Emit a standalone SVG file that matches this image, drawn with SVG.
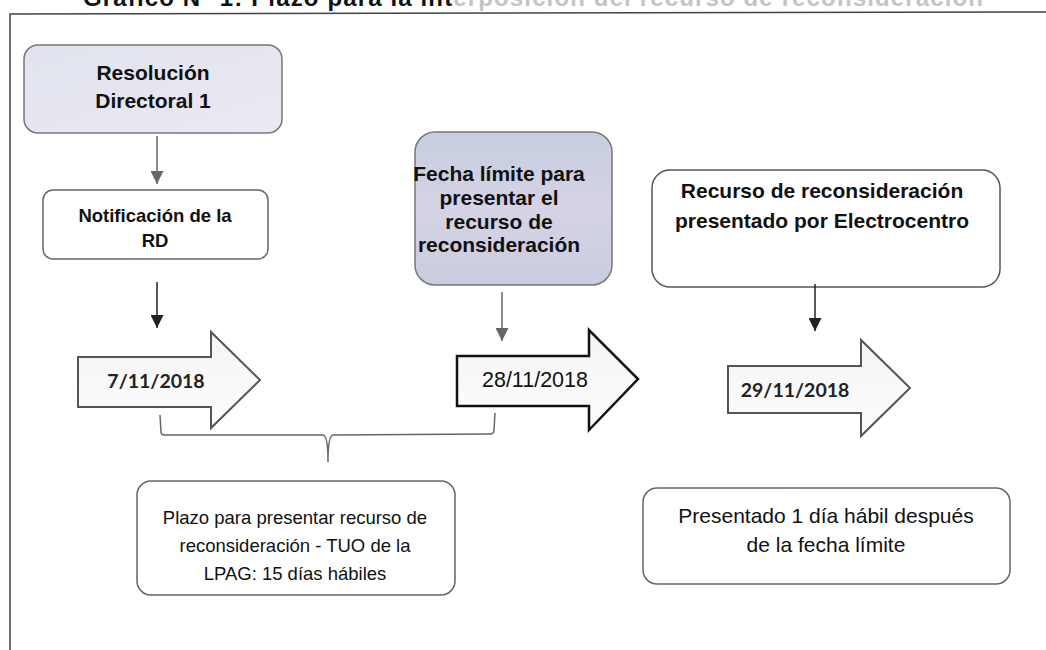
<svg xmlns="http://www.w3.org/2000/svg" width="1046" height="650" viewBox="0 0 1046 650">
<defs>
<linearGradient id="g1" x1="0" y1="0" x2="1" y2="1">
<stop offset="0" stop-color="#e0e3ee"/>
<stop offset="1" stop-color="#ece9f2"/>
</linearGradient>
<linearGradient id="g2" x1="0" y1="0" x2="0" y2="1">
<stop offset="0" stop-color="#c6cde0"/>
<stop offset="0.5" stop-color="#d5d3e4"/>
<stop offset="1" stop-color="#c8cde0"/>
</linearGradient>
<linearGradient id="g3" x1="0" y1="0" x2="0" y2="1">
<stop offset="0" stop-color="#f4f4f4"/>
<stop offset="1" stop-color="#fdfdfd"/>
</linearGradient>
<marker id="ahG" viewBox="0 0 10 10" refX="10" refY="5" markerUnits="userSpaceOnUse" markerWidth="14" markerHeight="13" orient="auto">
<path d="M0,0 L10,5 L0,10 z" fill="#666"/>
</marker>
<marker id="ahB" viewBox="0 0 10 10" refX="10" refY="5" markerUnits="userSpaceOnUse" markerWidth="14" markerHeight="13" orient="auto">
<path d="M0,0 L10,5 L0,10 z" fill="#222"/>
</marker>
<style>
.box{stroke:#666;stroke-width:1.5;fill:#fff}
.tb{font-family:"Liberation Sans",Arial,sans-serif;font-weight:bold;fill:#111;text-anchor:middle}
.tr{font-family:"Liberation Sans",Arial,sans-serif;fill:#111;text-anchor:middle}
.td{font-family:Lato,"Liberation Sans",sans-serif;font-weight:bold;fill:#222;text-anchor:middle}
.blk{fill:url(#g3);stroke:#555;stroke-width:2}
.conn{fill:none;stroke-width:1.5}
</style>
</defs>
<rect width="1046" height="650" fill="#fff"/>
<g id="title">
<text x="83" y="6" font-family="Liberation Sans,Arial,sans-serif" font-weight="bold" font-size="24" fill="#111" textLength="900" lengthAdjust="spacing">Gráfico N° 1: Plazo para la int<tspan fill="#c4c4c4">erposición del recurso de reconsideración</tspan></text>
</g>
<g id="frame">
<path d="M10,650 L10,14 L1046,12" fill="none" stroke="#444" stroke-width="1.5"/>
</g>
<g id="n1">
<rect x="24" y="45" width="258" height="88" rx="14" fill="url(#g1)" stroke="#777" stroke-width="1.5"/>
<text class="tb" font-size="21" x="153" y="80">Resolución</text>
<text class="tb" font-size="21" x="153" y="108">Directoral 1</text>
</g>
<g id="n2">
<rect class="box" x="43" y="190" width="225" height="69" rx="10"/>
<text class="tb" font-size="18.5" x="155" y="222">Notificación de la</text>
<text class="tb" font-size="18.5" x="155" y="247">RD</text>
</g>
<g id="n3">
<rect x="415" y="132" width="197" height="153" rx="20" fill="url(#g2)" stroke="#777" stroke-width="1.5"/>
<text class="tb" font-size="21" x="499" y="181">Fecha límite para</text>
<text class="tb" font-size="21" x="499" y="205">presentar el</text>
<text class="tb" font-size="21" x="499" y="229">recurso de</text>
<text class="tb" font-size="21" x="499" y="252">reconsideración</text>
</g>
<g id="n4">
<rect class="box" x="652" y="170" width="348" height="117" rx="18" style="stroke:#555"/>
<text class="tb" font-size="21" x="822" y="198">Recurso de reconsideración</text>
<text class="tb" font-size="21" x="822" y="228">presentado por Electrocentro</text>
</g>
<g id="a1">
<path class="blk" d="M78,357 L211,357 L211,332 L260,380 L211,428 L211,407 L78,407 Z"/>
<text class="td" font-size="19.5" x="156" y="388">7/11/2018</text>
</g>
<g id="a2">
<path class="blk" style="stroke:#111;stroke-width:2.5" d="M457,356 L589,356 L589,330 L638,379 L589,430 L589,406 L457,406 Z"/>
<text class="tr" font-size="21.5" x="535" y="387">28/11/2018</text>
</g>
<g id="a3">
<path class="blk" d="M728,366 L861,366 L861,340 L910,388 L861,436 L861,413 L728,413 Z"/>
<text class="td" font-size="19.5" x="795" y="397">29/11/2018</text>
</g>
<g id="n5">
<rect class="box" x="137" y="481" width="318" height="114" rx="14"/>
<text class="tr" font-size="18.5" x="295" y="524">Plazo para presentar recurso de</text>
<text class="tr" font-size="18.5" x="295" y="552">reconsideración - TUO de la</text>
<text class="tr" font-size="18.5" x="295" y="580">LPAG: 15 días hábiles</text>
</g>
<g id="n6">
<rect class="box" x="643" y="488" width="367" height="96" rx="14"/>
<text class="tr" font-size="21" x="826" y="523">Presentado 1 día hábil después</text>
<text class="tr" font-size="21" x="826" y="552">de la fecha límite</text>
</g>
<g id="connectors">
<line class="conn" x1="157" y1="136" x2="157" y2="184" stroke="#666" marker-end="url(#ahG)"/>
<line class="conn" x1="157" y1="282" x2="157" y2="328" stroke="#222" marker-end="url(#ahB)"/>
<line class="conn" x1="502" y1="292" x2="502" y2="341" stroke="#666" marker-end="url(#ahG)"/>
<line class="conn" x1="815" y1="284" x2="815" y2="331" stroke="#222" marker-end="url(#ahB)"/>
<path class="conn" stroke="#666" d="M160,415 L161,432 Q161,435 165,435 L323,435 Q328,435 328,462 Q328,435 333,435 L490,434 Q494,434 494,430 L495,413"/>
</g>
</svg>
